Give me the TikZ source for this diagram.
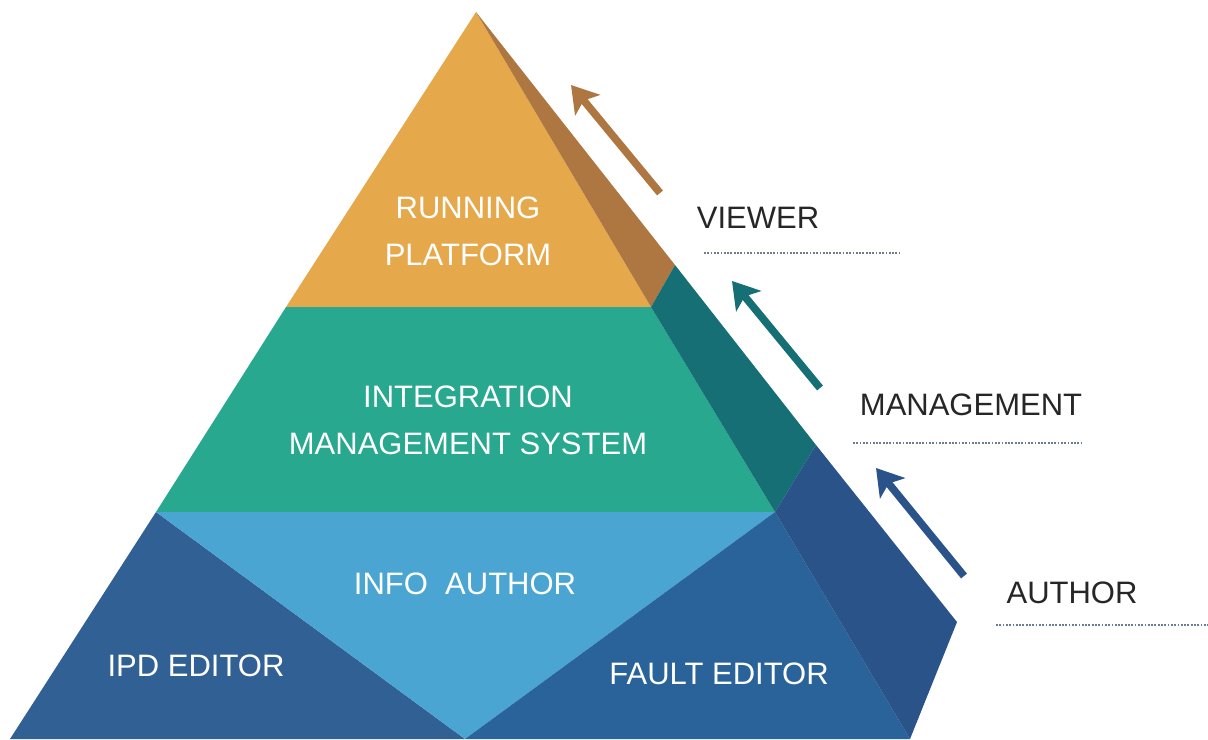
\documentclass[tikz,border=0pt]{standalone}
\usepackage{fontspec}
\setmainfont{Liberation Sans}
\usetikzlibrary{arrows.meta}
\definecolor{naranja}{RGB}{229, 168, 74}
\definecolor{cafe}{RGB}{174, 119, 66}
\definecolor{verde}{RGB}{40, 168, 142}
\definecolor{verdeosc}{RGB}{22, 111, 116}
\definecolor{celeste}{RGB}{74, 165, 210}
\definecolor{azulizq}{RGB}{49, 96, 148}
\definecolor{azulder}{RGB}{41, 99, 153}
\definecolor{azullado}{RGB}{42, 83, 137}
\definecolor{puntos}{RGB}{110, 124, 146}
\definecolor{texto}{RGB}{38, 38, 38}
\tikzset{
  etiqueta/.style={text=white, align=center, font=\fontsize{15.5}{23.5}\selectfont},
  rotulo/.style={text=texto, font=\fontsize{15.5}{23.5}\selectfont},
  flecha/.style={line width=3.8pt, -{Stealth[length=13pt, width=16pt, inset=3pt]}},
  punteada/.style={color=puntos, line width=1pt, dash pattern=on 0.9pt off 0.75pt}
}

\begin{document}
\begin{tikzpicture}[x=0.5pt, y=-0.5pt]
	\useasboundingbox (0,0) rectangle (1208,739);

	%Cara frontal de la piramide
	\fill[color=naranja] (476,12) -- (286,307) -- (651,307) -- cycle; %nivel superior
	\fill[color=verde] (286,307) -- (156,512) -- (775,512) -- (651,307) -- cycle; %nivel medio
	\fill[color=azulizq] (156,512) -- (10,739) -- (465,739) -- cycle; %abajo izquierda
	\fill[color=celeste] (156,512) -- (775,512) -- (465,739) -- cycle; %abajo centro
	\fill[color=azulder] (775,512) -- (910,739) -- (465,739) -- cycle; %abajo derecha

	%Cara lateral
	\fill[color=cafe] (476,12) -- (675,265) -- (651,307) -- cycle;
	\fill[color=verdeosc] (651,307) -- (675,265) -- (816,445) -- (775,512) -- cycle;
	\fill[color=azullado] (775,512) -- (816,445) -- (957,622) -- (910,739) -- cycle;

	%Textos de cada nivel
	\node[etiqueta] (running) at (468,231.5) {RUNNING\\PLATFORM};
	\node[etiqueta] (integ) at (468,420) {INTEGRATION\\MANAGEMENT SYSTEM};
	\node[etiqueta] (info) at (465,584) {INFO\ \ AUTHOR};
	\node[etiqueta] (ipd) at (196,666) {IPD EDITOR};
	\node[etiqueta] (fault) at (719,674) {FAULT EDITOR};

	%Rotulos de la derecha
	\node[rotulo] (viewer) at (758,217.5) {VIEWER};
	\node[rotulo] (mgmt) at (971,405) {MANAGEMENT};
	\node[rotulo] (author) at (1072,592.5) {AUTHOR};

	%Lineas punteadas
	\coordinate (viewerL) at (704,253);
	\coordinate (viewerR) at (900,253);
	\coordinate (mgmtL) at (853,443);
	\coordinate (mgmtR) at (1081,443);
	\coordinate (authorL) at (996,625);
	\coordinate (authorR) at (1208,625);
	\draw[punteada] (viewerL) -- (viewerR);
	\draw[punteada] (mgmtL) -- (mgmtR);
	\draw[punteada] (authorL) -- (authorR);

	%Flechas
	\coordinate (viewerTail) at (660,193);
	\coordinate (viewerTip) at (571,85);
	\coordinate (mgmtTail) at (820,388);
	\coordinate (mgmtTip) at (732,281);
	\coordinate (authorTail) at (964,576);
	\coordinate (authorTip) at (876,468);
	\draw[flecha, color=cafe] (viewerTail) -- (viewerTip);
	\draw[flecha, color=verdeosc] (mgmtTail) -- (mgmtTip);
	\draw[flecha, color=azullado] (authorTail) -- (authorTip);
\end{tikzpicture}
\end{document}
